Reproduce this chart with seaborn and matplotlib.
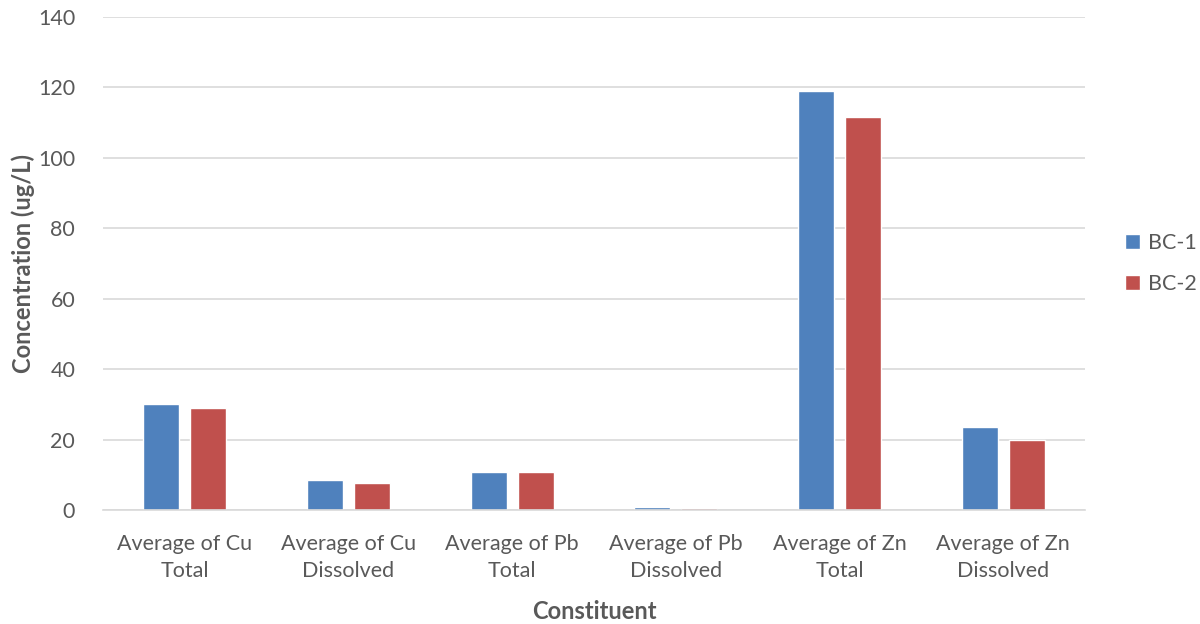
import matplotlib
matplotlib.use("Agg")
import matplotlib.pyplot as plt
import seaborn as sns
import pandas as pd

categories = ["Average of Cu\nTotal", "Average of Cu\nDissolved", "Average of Pb\nTotal",
              "Average of Pb\nDissolved", "Average of Zn\nTotal", "Average of Zn\nDissolved"]
series_names = ["BC-1", "BC-2"]
bc1 = [30.1, 8.5, 10.9, 0.8, 119.0, 23.6]
bc2 = [29.0, 7.6, 10.7, 0.5, 111.6, 19.9]
y_ticks = [0, 20, 40, 60, 80, 100, 120, 140]

df = pd.DataFrame({
    "Constituent": categories * 2,
    "Value": bc1 + bc2,
    "Series": [series_names[0]] * len(categories) + [series_names[1]] * len(categories),
})

sns.set_theme(style="white")
plt.rcParams['font.family'] = ['Lato', 'DejaVu Sans']
text_color = "#595959"

fig = plt.figure(figsize=(12, 6.24), dpi=100)
ax_left, ax_right, ax_top, ax_bottom = 103, 1085, 17, 510
ax = fig.add_axes([ax_left / 1200, 1 - ax_bottom / 624, (ax_right - ax_left) / 1200,
                   (ax_bottom - ax_top) / 624])

sns.barplot(data=df, x="Constituent", y="Value", hue="Series", order=categories,
            hue_order=series_names, palette=["#4F81BD", "#C0504D"],
            width=0.574, gap=0.23, ax=ax, legend=True, saturation=1)

ax.set_ylim(0, 140)
ax.set_yticks(y_ticks)
ax.set_xlim(-0.5, len(categories) - 0.5)
ax.yaxis.grid(True, color="#D9D9D9", linewidth=1.2)
ax.set_axisbelow(True)
for s in ["left", "right", "top"]:
    ax.spines[s].set_visible(False)
ax.spines["bottom"].set_color("#D9D9D9")
ax.spines["bottom"].set_linewidth(1.2)
ax.tick_params(axis="both", length=0, labelsize=15.5, colors=text_color)
ax.tick_params(axis="x", pad=17)
ax.tick_params(axis="y", pad=20)
for lbl in ax.get_xticklabels():
    lbl.set_linespacing(1.45)
ax.set_xlabel("Constituent", fontsize=17, fontweight="bold", color=text_color, labelpad=14)
ax.set_ylabel("Concentration (ug/L)", fontsize=17, fontweight="bold", color=text_color,
              va="center", ha="center")
ax.yaxis.set_label_coords((23 - ax_left) / (ax_right - ax_left), 0.5)

leg = ax.legend(loc="center left", bbox_to_anchor=(1.021, 0.5), frameon=False,
                fontsize=15.5, handlelength=0.7, handleheight=0.7, handletextpad=0.35,
                labelspacing=1.0)
for t in leg.get_texts():
    t.set_color(text_color)

fig.savefig("out.png", dpi=100)
